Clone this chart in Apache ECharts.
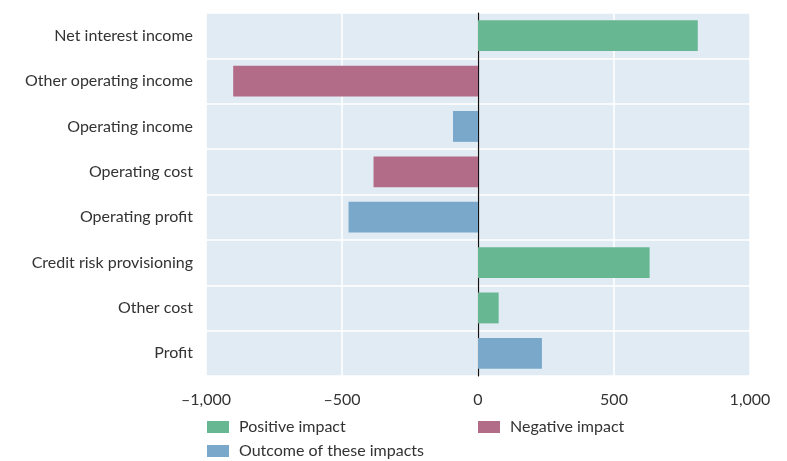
<!DOCTYPE html>
<html>
<head>
<meta charset="utf-8">
<script src="https://cdn.jsdelivr.net/npm/echarts@6/dist/echarts.min.js"></script>
<style>
  html, body { margin: 0; padding: 0; background: #fff; }
  #c { width: 787px; height: 461px; }
</style>
</head>
<body>
<div id="c"></div>
<script>
const categories = [
  'Net interest income',
  'Other operating income',
  'Operating income',
  'Operating cost',
  'Operating profit',
  'Credit risk provisioning',
  'Other cost',
  'Profit',
]
// one value per row, null where the row belongs to another group
const positive = [808, null, null, null, null, 631, 76, null]
const negative = [null, -900, null, -384, null, null, null, null]
const outcome = [null, null, -92, null, -476, null, null, 235]

const xTicks = { min: -1000, max: 1000, interval: 500 }

const font = 'Lato, "Open Sans", sans-serif'
const textColor = '#333'

function fmt(v) {
  const s = Math.abs(v).toLocaleString('en-US')
  return v < 0 ? '\u2013' + s : s
}

const chart = echarts.init(document.getElementById('c'))

function series(name, data, color) {
  return {
    name,
    type: 'bar',
    stack: 'all',
    data,
    barCategoryGap: '32%',
    itemStyle: { color },
    emphasis: { disabled: true },
  }
}

function legendItem(name, left, top) {
  return {
    data: [name],
    left,
    top,
    padding: 0,
    itemWidth: 22,
    itemHeight: 12,
    icon: 'rect',
    textStyle: { color: textColor, fontFamily: font, fontSize: 16, padding: [0, 0, 0, 5] },
    selectedMode: false,
  }
}

chart.setOption({
  animation: false,
  grid: {
    left: 206,
    right: 37,
    top: 13,
    bottom: 85,
    show: true,
    backgroundColor: '#e1ebf4',
    borderWidth: 0,
  },
  legend: [
    legendItem('Positive impact', 207, 419),
    legendItem('Negative impact', 478, 419),
    legendItem('Outcome of these impacts', 207, 443),
  ],
  xAxis: {
    type: 'value',
    min: xTicks.min,
    max: xTicks.max,
    interval: xTicks.interval,
    axisLine: { show: false },
    axisTick: { show: false },
    splitLine: { lineStyle: { color: '#fff', width: 1.5 } },
    axisLabel: {
      color: textColor,
      fontFamily: font,
      fontSize: 16,
      margin: 16,
      formatter: fmt,
    },
  },
  yAxis: {
    type: 'category',
    inverse: true,
    data: categories,
    axisLine: { show: true, onZero: true, lineStyle: { color: '#111', width: 1.2 } },
    axisTick: { show: false },
    splitLine: { show: true, lineStyle: { color: '#fff', width: 1.5 } },
    axisLabel: {
      color: textColor,
      fontFamily: font,
      fontSize: 16,
      margin: 13,
    },
  },
  series: [
    series('Positive impact', positive, '#67b793'),
    series('Negative impact', negative, '#b36c88'),
    series('Outcome of these impacts', outcome, '#7aa8cb'),
  ],
})
</script>
</body>
</html>
